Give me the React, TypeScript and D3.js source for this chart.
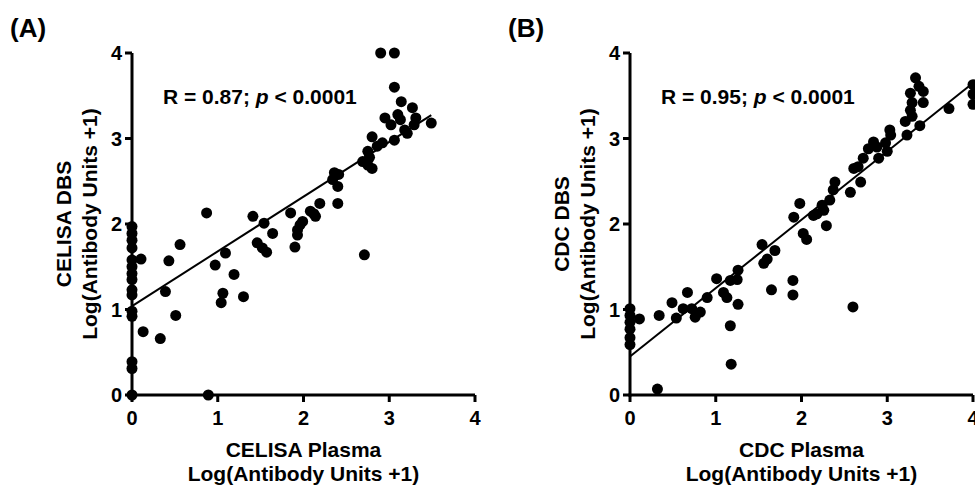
import React from "react";
import * as d3 from "d3";

// Panel A: CELISA plasma vs DBS (log antibody units + 1)
const celisaPlasma = [
  2.9, 3.06, 3.06, 3.14, 3.27, 2.95, 3.1, 3.13, 3.02, 3.31, 3.29, 3.21, 3.06, 3.49, 3.18,
  2.8, 2.92, 2.86, 2.75, 2.77, 2.69, 2.75, 2.8, 2.36, 2.41, 2.34, 2.4, 2.4, 2.19, 2.08,
  2.14, 2.12, 1.85, 1.99, 1.96, 1.93, 1.93, 1.9, 1.41, 1.54, 1.64, 1.46, 1.52, 1.57, 0.87,
  2.71, 0.56, 0.43, 0.105, 1.09, 0.97, 1.19, 1.06, 1.04, 1.3, 0.39, 0.51, 0.13, 0.33, 0.89,
  0, 0, 0, 0, 0, 0, 0, 0, 0, 0, 0, 0, 0, 0, 0,
];
const celisaDbs = [
  4.0, 4.0, 3.6, 3.43, 3.36, 3.24, 3.28, 3.22, 3.16, 3.24, 3.16, 3.06, 2.98, 3.18, 3.1,
  3.02, 2.95, 2.91, 2.85, 2.78, 2.73, 2.69, 2.65, 2.6, 2.58, 2.52, 2.44, 2.24, 2.24, 2.15,
  2.09, 2.12, 2.13, 2.03, 1.99, 1.93, 1.87, 1.73, 2.09, 2.01, 1.89, 1.78, 1.72, 1.67, 2.13,
  1.64, 1.76, 1.57, 1.59, 1.66, 1.52, 1.41, 1.19, 1.08, 1.15, 1.21, 0.93, 0.74, 0.66, 0,
  1.97, 1.89, 1.81, 1.72, 1.58, 1.5, 1.42, 1.35, 1.23, 1.17, 0.98, 0.92, 0.39, 0.31, 0,
];

// Panel B: CDC plasma vs DBS
const cdcPlasma = [
  3.33, 3.27, 3.42, 3.37, 3.42, 3.29, 3.27, 3.29, 3.21, 3.38, 3.23, 3.72, 4.0, 4.0, 4.0,
  3.03, 3.04, 3.0, 2.98, 2.88, 2.84, 2.78, 2.9, 2.72, 2.61, 2.66, 2.69, 2.57, 2.39, 2.37,
  2.33, 2.24, 2.26, 2.14, 2.18, 2.29, 1.98, 1.91, 2.02, 2.06, 1.54, 1.69, 1.6, 1.56, 1.26,
  1.25, 1.17, 1.01, 1.09, 1.13, 1.26, 0.9, 0.67, 0.49, 0.62, 0.72, 0.82, 0.76, 0.54, 0.34,
  0.11, 1.65, 1.9, 1.9, 2.6, 1.17, 1.18, 0.32, 0, 0, 0, 0, 0, 0,
];
const cdcDbs = [
  3.71, 3.53, 3.55, 3.61, 3.42, 3.42, 3.33, 3.26, 3.2, 3.15, 3.04, 3.35, 3.63, 3.52, 3.4,
  3.1, 3.04, 2.85, 2.95, 2.9, 2.96, 2.88, 2.77, 2.77, 2.65, 2.67, 2.49, 2.37, 2.49, 2.4,
  2.28, 2.22, 2.16, 2.1, 2.12, 1.98, 2.24, 2.08, 1.89, 1.82, 1.76, 1.69, 1.59, 1.54, 1.46,
  1.35, 1.34, 1.36, 1.2, 1.14, 1.06, 1.14, 1.2, 1.08, 1.01, 1.01, 0.97, 0.91, 0.9, 0.93,
  0.89, 1.23, 1.34, 1.17, 1.03, 0.81, 0.36, 0.07, 1.01, 0.93, 0.85, 0.77, 0.67, 0.59,
];

// linear fits: [intercept, slope, last x]
const fitA = [1.04, 0.64, 3.49];
const fitB = [0.45, 0.8, 4.0];

const ticks = [0, 1, 2, 3, 4];
const font = "'Liberation Sans', Arial, sans-serif";

type PanelProps = {
  left: number;
  tag: string;
  xs: number[];
  ys: number[];
  fit: number[];
  rText: string;
  yTitle: string;
  xTitle: string;
};

function Panel({ left, tag, xs, ys, fit, rText, yTitle, xTitle }: PanelProps) {
  const x = d3.scaleLinear().domain([0, 4]).range([left, left + 343]);
  const y = d3.scaleLinear().domain([0, 4]).range([395, 53]);
  const line = d3.line<number>().x((d) => x(d)).y((d) => y(fit[0] + fit[1] * d));
  const midX = (x(0) + x(4)) / 2;
  const midY = (y(0) + y(4)) / 2;
  return (
    <g fontFamily={font} fontWeight="bold" fill="#000">
      <text x={left - 122} y={37} fontSize={26}>{tag}</text>
      {ys.map((v, i) => (
        <circle key={i} cx={x(xs[i])} cy={y(v)} r={5.5} fill="#000" />
      ))}
      <path d={line([0, fit[2]]) || ""} stroke="#000" strokeWidth={2} fill="none" />
      <line x1={x(0)} x2={x(0)} y1={y(4)} y2={y(0) + 1.5} stroke="#000" strokeWidth={3} />
      <line x1={x(0) - 1.5} x2={x(4)} y1={y(0)} y2={y(0)} stroke="#000" strokeWidth={3} />
      {ticks.map((t) => (
        <g key={"y" + t}>
          <line x1={x(0) - 7} x2={x(0)} y1={y(t)} y2={y(t)} stroke="#000" strokeWidth={3} />
          <text x={x(0) - 10} y={y(t)} dy="0.36em" textAnchor="end" fontSize={20}>{t}</text>
        </g>
      ))}
      {ticks.map((t) => (
        <g key={"x" + t}>
          <line x1={x(t)} x2={x(t)} y1={y(0)} y2={y(0) + 7} stroke="#000" strokeWidth={3} />
          <text x={x(t)} y={425} textAnchor="middle" fontSize={20}>{t}</text>
        </g>
      ))}
      <text x={x(0) + 31} y={104} fontSize={21}>
        {rText}
        <tspan fontStyle="italic">p</tspan>
        {" < 0.0001"}
      </text>
      <text x={midX} y={457} textAnchor="middle" fontSize={21}>{xTitle}</text>
      <text x={midX} y={481} textAnchor="middle" fontSize={21}>Log(Antibody Units +1)</text>
      <text transform={`translate(${left - 61},${midY}) rotate(-90)`} textAnchor="middle" fontSize={21}>{yTitle}</text>
      <text transform={`translate(${left - 35},${midY}) rotate(-90)`} textAnchor="middle" fontSize={21}>Log(Antibody Units +1)</text>
    </g>
  );
}

export default function App() {
  return (
    <div style={{ position: "absolute", left: 0, top: 0 }}>
      <svg width={975} height={489} style={{ display: "block", background: "#fff" }}>
        <Panel left={132} tag="(A)" xs={celisaPlasma} ys={celisaDbs} fit={fitA}
          rText="R = 0.87; " yTitle="CELISA DBS" xTitle="CELISA Plasma" />
        <Panel left={630} tag="(B)" xs={cdcPlasma} ys={cdcDbs} fit={fitB}
          rText="R = 0.95; " yTitle="CDC DBS" xTitle="CDC Plasma" />
      </svg>
    </div>
  );
}
